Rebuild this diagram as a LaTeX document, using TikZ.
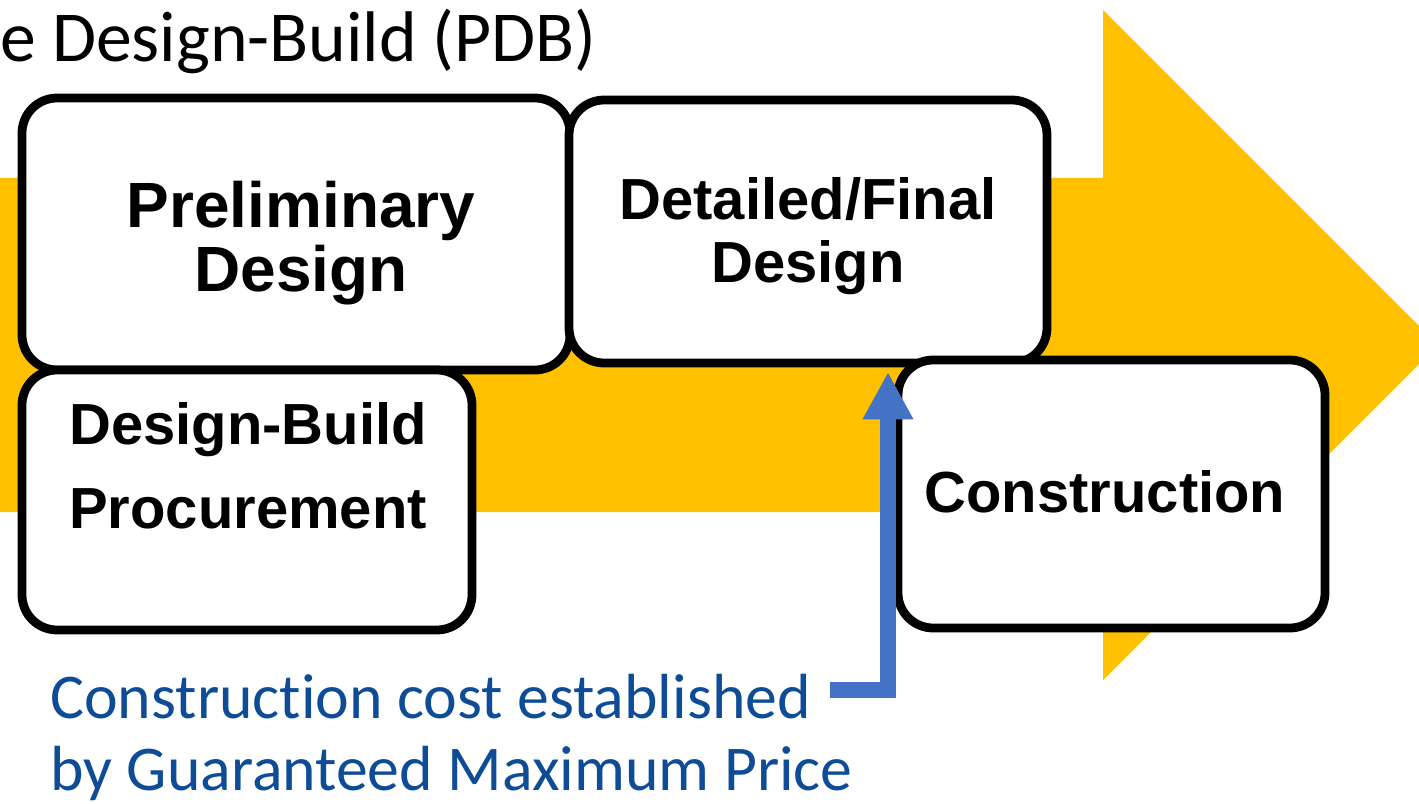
\documentclass[tikz,border=0pt]{standalone}
\usepackage{fontspec}
\setmainfont{Carlito}[Ligatures=NoCommon]
\newfontfamily\stagefont{Liberation Sans}
\usetikzlibrary{arrows.meta}
\definecolor{pdbyellow}{HTML}{FFC000}
\definecolor{pdbblue}{HTML}{4472C4}
\definecolor{notetext}{HTML}{0F4C97}
\begin{document}
\begin{tikzpicture}[x=0.02cm,y=-0.02cm,
    stage/.style={draw=black,line width=5pt,fill=white,rounded corners=20pt},
    stagetext/.style={font=\stagefont\bfseries\fontsize{33}{36}\selectfont,align=center,inner sep=0pt},
    note/.style={text=notetext,font=\fontsize{36.3}{41}\selectfont,inner sep=0pt},
    gmp/.style={draw=pdbblue,line width=9pt,-{Triangle[length=27pt,width=27pt]}}]
    \useasboundingbox (0,0) rectangle (1419,804);
    \clip (0,0) rectangle (1419,804);
    %% big process arrow
    \fill[pdbyellow] (0,178) -- (1103,178) -- (1103,10) -- (1438,345) -- (1103,680) -- (1103,512) -- (0,512) -- cycle;
    %% title
    \node[anchor=base east,inner sep=0pt,font=\fontsize{40.8}{48}\selectfont] (title) at (597,62) {e Design-Build (PDB)};
    %% preliminary design
    \draw[stage] (22,98) rectangle (570,370);
    \node[stagetext,font=\stagefont\bfseries\fontsize{36.4}{36.4}\selectfont] (prelim) at (301,243) {Preliminary\\Design};
    %% procurement
    \draw[stage] (22,370) rectangle (472,630);
    \node[stagetext,font=\stagefont\bfseries\fontsize{33}{47.5}\selectfont] (procure) at (248,466) {Design-Build\\Procurement};
    %% detailed design
    \draw[stage] (569,100) rectangle (1047,363);
    \node[stagetext] (detail) at (808,236) {Detailed/Final\\Design};
    %% construction
    \draw[stage] (898,360) rectangle (1325,628);
    \node[stagetext,anchor=base] (build) at (1105,512) {Construction};
    %% guaranteed maximum price
    \node[note,anchor=base west] (note1) at (50,718) {Construction cost established};
    \node[note,anchor=base west] (note2) at (50,790) {by Guaranteed Maximum Price};
    \coordinate (gmpfrom) at (830,690);
    \coordinate (gmpto) at (888,372);
    \draw[gmp] (gmpfrom) -| (gmpto);
\end{tikzpicture}
\end{document}
